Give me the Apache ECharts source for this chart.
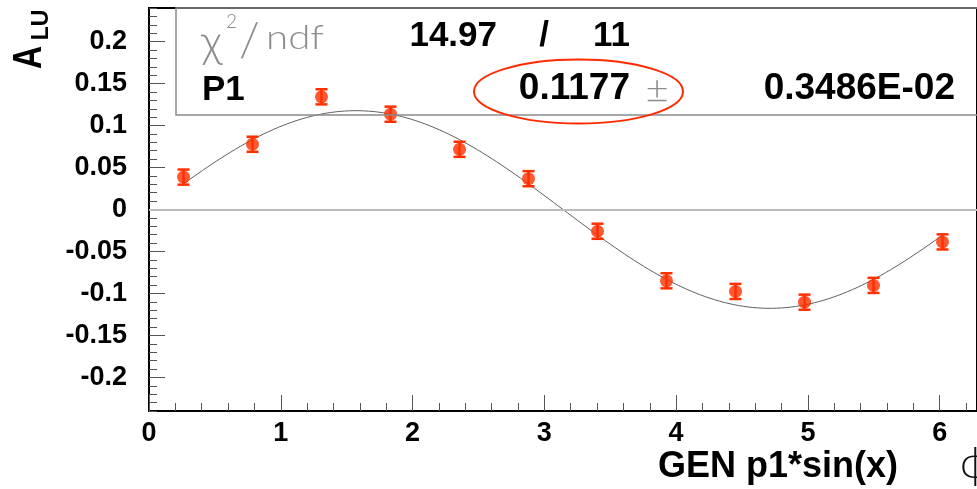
<!DOCTYPE html>
<html>
<head>
<meta charset="utf-8">
<script src="https://cdn.jsdelivr.net/npm/echarts@6/dist/echarts.min.js"></script>
<style>
  html, body { margin: 0; padding: 0; background: #fff; }
  #chart { width: 977px; height: 489px; }
</style>
</head>
<body>
<div id="chart"></div>
<script>
// Bin centres in phi (12 bins over 0..2pi) and the measured beam-spin asymmetry
const phiBins = [0.2618, 0.7854, 1.3090, 1.8326, 2.3562, 2.8798, 3.4034, 3.9270, 4.4506, 4.9742, 5.4978, 6.0214];
const aluValues = [0.0386, 0.0777, 0.1342, 0.1135, 0.0717, 0.0367, -0.0259, -0.0849, -0.0976, -0.1104, -0.0904, -0.0386];
const aluErrors = [0.009, 0.009, 0.009, 0.009, 0.009, 0.009, 0.009, 0.009, 0.009, 0.009, 0.009, 0.009];

// Axis tick labels
const yTickLabels = [-0.2, -0.15, -0.1, -0.05, 0, 0.05, 0.1, 0.15, 0.2];
const xTickLabels = [0, 1, 2, 3, 4, 5, 6];

// Fit results (p1*sin(x))
const chi2Text = '14.97';
const ndfText = '11';
const p1Text = '0.1177';
const p1ErrText = '0.3486E-02';
const P1 = parseFloat(p1Text);

const RED = '#ff3000';
const BOLD = { fontFamily: 'Liberation Sans', fontWeight: 'bold', color: '#000' };
const LIGHT = { fontFamily: 'Lato', fontWeight: 300 };
const GREY_TEXT = '#8c8c8c';

// fitted function sampled across the fit range
const fitCurve = [];
{
  const x0 = phiBins[0], x1 = phiBins[phiBins.length - 1], n = 160;
  for (let i = 0; i <= n; i++) {
    const x = x0 + (x1 - x0) * i / n;
    fitCurve.push([x, P1 * Math.sin(x)]);
  }
}

const points = phiBins.map((x, i) => [x, aluValues[i], aluErrors[i]]);

function boldText(text, x, y, size, align) {
  return { type: 'text', z: 11, x: x, y: y, silent: true,
    style: { text: text, fontSize: size, fontFamily: 'Liberation Sans', fontWeight: 'bold', fill: '#000',
      align: align || 'left', verticalAlign: 'middle' } };
}
function lightText(text, x, y, size, align, extra) {
  return Object.assign({ type: 'text', z: 11, x: x, y: y, silent: true,
    style: { text: text, fontSize: size, ...LIGHT, fill: GREY_TEXT, align: align || 'left', verticalAlign: 'middle' } }, extra || {});
}

const chart = echarts.init(document.getElementById('chart'), null, { renderer: 'canvas' });

chart.setOption({
  animation: false,
  grid: {
    left: 149, top: 8, width: 837, height: 403,
    show: true, borderColor: '#000', borderWidth: 2, backgroundColor: 'transparent'
  },
  xAxis: [
    {
      type: 'value', position: 'bottom', min: 0, max: 2 * Math.PI, interval: 0.2,
      axisLine: { show: false, onZero: false },
      axisTick: { inside: true, length: 8, lineStyle: { color: '#555', width: 1 } },
      axisLabel: { show: false },
      splitLine: { show: false }
    },
    {
      type: 'value', position: 'bottom', min: 0, max: 2 * Math.PI,
      axisLine: { show: true, onZero: false, lineStyle: { color: '#000', width: 2 } },
      axisTick: { inside: true, length: 16, customValues: xTickLabels, lineStyle: { color: '#555', width: 1 } },
      axisLabel: { customValues: xTickLabels, margin: 9, fontSize: 27, ...BOLD },
      splitLine: { show: false }
    }
  ],
  yAxis: [
    {
      type: 'value', position: 'left', min: -0.24, max: 0.24, interval: 0.01,
      axisLine: { show: false, onZero: false },
      axisTick: { inside: true, length: 8, lineStyle: { color: '#555', width: 1 } },
      axisLabel: { show: false },
      splitLine: { show: false }
    },
    {
      type: 'value', position: 'left', min: -0.24, max: 0.24,
      axisLine: { show: true, onZero: false, lineStyle: { color: '#000', width: 2 } },
      axisTick: { inside: true, length: 16, customValues: yTickLabels, lineStyle: { color: '#555', width: 1 } },
      axisLabel: { customValues: yTickLabels, margin: 22, fontSize: 27, ...BOLD },
      splitLine: { show: false }
    }
  ],
  series: [
    {
      type: 'line', name: 'fit', data: fitCurve, showSymbol: false, symbol: 'none',
      xAxisIndex: 0, yAxisIndex: 0, z: 3, silent: true,
      lineStyle: { color: '#5f5f5f', width: 1 },
      markLine: {
        silent: true, symbol: 'none', label: { show: false },
        lineStyle: { color: '#bdbdbd', width: 2, type: 'solid' },
        data: [{ yAxis: 0 }]
      }
    },
    {
      type: 'custom', name: 'errors', data: points, xAxisIndex: 0, yAxisIndex: 0, z: 4,
      renderItem: function (params, api) {
        const x = api.value(0), y = api.value(1), e = api.value(2);
        const top = api.coord([x, y + e]);
        const bot = api.coord([x, y - e]);
        const half = 6;
        const st = { stroke: RED, lineWidth: 2.5 };
        return {
          type: 'group',
          children: [
            { type: 'line', shape: { x1: top[0], y1: top[1], x2: bot[0], y2: bot[1] }, style: st },
            { type: 'line', shape: { x1: top[0] - half, y1: top[1], x2: top[0] + half, y2: top[1] }, style: st },
            { type: 'line', shape: { x1: bot[0] - half, y1: bot[1], x2: bot[0] + half, y2: bot[1] }, style: st }
          ]
        };
      }
    },
    {
      type: 'scatter', name: 'ALU', data: points, xAxisIndex: 0, yAxisIndex: 0, z: 5,
      symbol: 'circle', symbolSize: 13, itemStyle: { color: RED }
    }
  ],
  graphic: [
    // statistics box
    { type: 'rect', z: 10, silent: true, shape: { x: 176, y: 8, width: 900, height: 107 },
      style: { fill: 'none', stroke: '#8a8a8a', lineWidth: 1.5 } },
    lightText('χ', 201, 42, 46),
    lightText('2', 226, 22, 19),
    lightText('/', 239, 41, 48),
    lightText('ndf', 266, 38, 33, 'left', { scaleX: 1.22 }),
    boldText(chi2Text, 497, 36, 35, 'right'),
    boldText('/', 544, 36, 35, 'center'),
    boldText(ndfText, 630, 36, 35, 'right'),
    boldText('P1', 202, 90, 35),
    boldText(p1Text, 630, 89, 37, 'right'),
    lightText('±', 657, 90, 40, 'center'),
    boldText(p1ErrText, 955, 89, 37, 'right'),
    // highlight around the fitted amplitude
    { type: 'ellipse', z: 12, silent: true, shape: { cx: 578.5, cy: 91.5, rx: 104.5, ry: 32 },
      style: { fill: 'none', stroke: '#ff2a00', lineWidth: 2 } },
    // y-axis title A_LU (rotated)
    { type: 'text', z: 11, x: 30, y: 57.5, rotation: Math.PI / 2, scaleX: 0.8, silent: true,
      style: { text: 'A', fontSize: 40, fontFamily: 'Liberation Sans', fontWeight: 'bold', fill: '#000', align: 'center', verticalAlign: 'middle' } },
    { type: 'text', z: 11, x: 41.5, y: 25, rotation: Math.PI / 2, silent: true,
      style: { text: 'LU', fontSize: 23, fontFamily: 'Liberation Sans', fontWeight: 'bold', fill: '#000', align: 'center', verticalAlign: 'middle' } },
    // x-axis title
    boldText('GEN p1*sin(x)', 898, 467, 36, 'right'),
    { type: 'text', z: 11, x: 960, y: 464, silent: true,
      style: { text: 'ϕ', fontSize: 44, ...LIGHT, fill: '#111', verticalAlign: 'middle' } }
  ]
});
</script>
</body>
</html>
